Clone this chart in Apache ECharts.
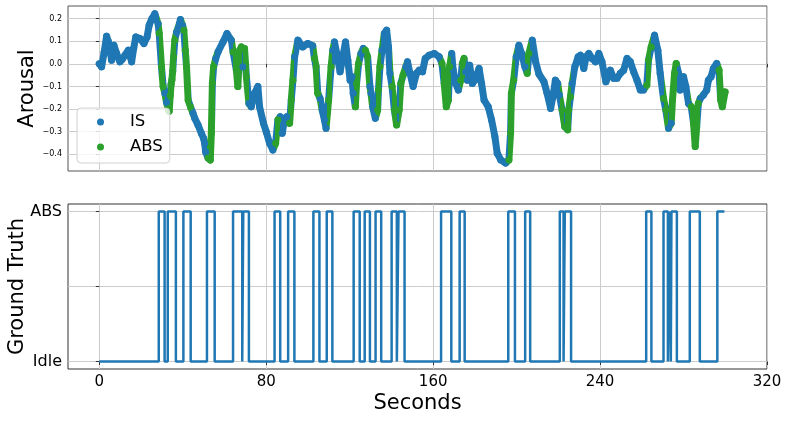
<!DOCTYPE html>
<html>
<head>
<meta charset="utf-8">
<script src="https://cdn.jsdelivr.net/npm/echarts@6/dist/echarts.min.js"></script>
<style>
html,body{margin:0;padding:0;background:#fff;}
#chart{width:789px;height:421px;}
</style>
</head>
<body>
<div id="chart"></div>
<script>
// ---- Data ----
const xTicks = [0, 80, 160, 240, 320];
const arousalTicks = [-0.4, -0.3, -0.2, -0.1, 0.0, 0.1, 0.2];
const gtLabels = ['Idle', 'ABS'];
const gtTickValues = [0, 0.5, 1];

// Ground-truth transitions: time (s) and state (0 = Idle, 1 = ABS) starting at that time
const gtTimes = [0, 28.5, 31.3, 32.8, 36.7, 40.3, 43.8, 51.6, 55.3, 64.1, 68.5, 69.0, 71.7, 84.0, 86.7, 90.5, 93.5,
  102.6, 105.5, 109.0, 111.7, 121.9, 124.8, 127.2, 129.7, 132.4, 135.1, 140.1, 142.6, 143.4, 146.3,
  163.8, 168.7, 172.7, 175.1, 196.0, 199.2, 204.1, 206.5, 220.7, 222.5, 223.1, 226.1,
  262.1, 264.6, 270.4, 272.5, 273.1, 273.9, 274.2, 276.8, 283.0, 287.8, 296.2, 299.6];
const gtStates = [0, 1, 0, 1, 0, 1, 0, 1, 0, 1, 0, 1, 0, 1, 0, 1, 0,
  1, 0, 1, 0, 1, 0, 1, 0, 1, 0, 1, 0, 1, 0,
  1, 0, 1, 0, 1, 0, 1, 0, 1, 0, 1, 0,
  1, 0, 1, 0, 1, 0, 1, 0, 1, 0, 1, 1];

// Arousal readings: time (s) and value
const arousalTimes = [0, 1.1, 2.3, 3.5, 4.3, 5.1, 5.9, 7.0, 8.3, 9.9, 11.0, 12.3, 13.9, 15.5, 16.5, 17.5, 19.5, 21.4, 22.9, 23.9,
  25.2, 26.6, 28.2, 28.7, 29.8, 30.6, 31.4, 32.2, 33.0, 33.5, 34.0, 34.4, 34.8, 35.2, 35.6, 36.2, 37.0, 37.8, 38.9, 39.9,
  40.5, 41.2, 41.8, 42.6, 43.7, 44.9, 45.7, 47.3, 48.9, 50.0, 50.5, 51.0, 52.1, 53.2, 53.7, 54.2, 54.8, 55.8, 56.9, 59.3,
  61.2, 63.3, 64.1, 65.7, 66.4, 67.3, 68.1, 68.8, 69.6, 70.5, 71.7, 72.8, 74.4, 76.0, 76.8, 78.7, 80.0, 81.6, 83.2, 84.5,
  85.6, 86.7, 87.7, 88.8, 89.9, 91.2, 92.0, 92.8, 93.6, 95.2, 97.5, 99.9, 102.3, 103.1, 103.9, 104.7, 105.8, 106.8, 107.9, 108.7,
  109.9, 111.1, 111.9, 112.7, 113.8, 115.4, 116.7, 118.0, 119.1, 120.2, 121.1, 121.7, 122.7, 123.3, 124.3, 125.4, 126.5, 127.5, 128.6, 129.7,
  130.2, 131.0, 132.3, 133.4, 133.8, 134.5, 135.5, 136.6, 137.7, 138.6, 139.3, 140.3, 141.4, 142.5, 143.7, 144.5, 145.6, 146.9, 147.7, 148.9,
  150.4, 152.0, 153.3, 154.9, 156.2, 158.1, 160.5, 162.9, 164.2, 165.3, 166.3, 167.3, 167.9, 168.9, 169.6, 170.8, 172.1, 173.2, 174.0, 174.8,
  175.6, 176.4, 177.5, 178.8, 180.0, 182.0, 183.2, 184.4, 186.4, 188.0, 189.6, 190.7, 192.4, 194.7, 196.3, 197.1, 197.5, 198.6, 199.8, 201.1,
  202.4, 204.0, 205.1, 205.9, 207.5, 209.1, 210.7, 213.1, 214.6, 216.3, 217.4, 218.6, 219.7, 220.5, 221.8, 223.1, 224.5, 225.0, 225.8, 226.6,
  227.9, 229.5, 230.6, 232.2, 233.3, 234.6, 236.1, 237.8, 239.4, 240.9, 242.8, 244.9, 246.5, 248.1, 249.7, 251.3, 252.9, 254.5, 256.1, 257.7,
  259.3, 260.8, 262.4, 263.2, 264.5, 266.1, 267.7, 268.8, 270.4, 271.5, 272.8, 274.1, 274.7, 275.7, 276.5, 277.6, 278.4, 280.0, 281.1, 282.4,
  283.7, 284.8, 285.6, 286.3, 287.1, 288.0, 289.5, 291.1, 291.9, 293.2, 294.3, 295.9, 297.0, 297.8, 298.6, 299.9];
const arousalValues = [0.0, -0.013, 0.05, 0.122, 0.10, 0.06, 0.016, 0.082, 0.046, 0.009, 0.02, 0.038, 0.06, 0.009, 0.07, 0.119, 0.112, 0.09, 0.119, 0.171,
  0.2, 0.222, 0.178, 0.135, -0.013, -0.1, -0.13, -0.17, -0.2, -0.21, -0.14, -0.09, -0.07, -0.03, 0.03, 0.105, 0.14, 0.16, 0.196, 0.171,
  0.149, 0.06, -0.013, -0.16, -0.19, -0.219, -0.24, -0.27, -0.307, -0.33, -0.351, -0.39, -0.417, -0.425, -0.307, -0.085, -0.013, 0.024, 0.053, 0.097,
  0.134, 0.105, 0.053, -0.028, -0.1, 0.06, 0.075, -0.013, 0.068, -0.057, -0.175, -0.19, -0.13, -0.1, -0.19, -0.263, -0.3, -0.351, -0.381, -0.351,
  -0.248, -0.234, -0.307, -0.241, -0.234, -0.263, -0.16, -0.072, 0.031, 0.105, 0.075, 0.09, 0.08, 0.024, -0.013, -0.13, -0.153, -0.204, -0.248, -0.285,
  -0.16, -0.013, 0.06, 0.097, 0.046, -0.035, 0.031, 0.097, 0.016, -0.072, -0.057, -0.13, -0.19, -0.087, 0.002, 0.046, 0.068, 0.06, 0.031, -0.1,
  -0.13, -0.19, -0.241, -0.204, -0.116, -0.013, 0.06, 0.134, 0.149, 0.075, -0.042, -0.1, -0.204, -0.27, -0.204, -0.087, -0.05, -0.013, 0.009, -0.042,
  -0.1, -0.042, -0.028, -0.035, 0.024, 0.038, 0.046, 0.031, 0.002, -0.087, -0.19, -0.16, -0.013, 0.046, -0.028, -0.087, -0.116, -0.072, 0.002, 0.024,
  -0.035, -0.072, -0.006, -0.087, -0.072, -0.02, -0.087, -0.16, -0.19, -0.248, -0.322, -0.395, -0.425, -0.439, -0.425, -0.307, -0.13, -0.072, 0.031, 0.082,
  0.046, -0.013, -0.042, 0.046, 0.105, 0.01, -0.045, -0.079, -0.13, -0.197, -0.146, -0.072, -0.087, -0.138, -0.204, -0.278, -0.292, -0.204, -0.146, -0.087,
  -0.013, 0.031, 0.038, -0.02, 0.031, 0.046, 0.024, 0.009, 0.046, 0.009, -0.079, -0.028, -0.064, -0.064, -0.042, -0.028, 0.024, 0.009, -0.035, -0.072,
  -0.116, -0.116, -0.094, 0.016, 0.075, 0.127, 0.06, -0.042, -0.153, -0.204, -0.285, -0.263, -0.16, -0.042, 0.002, -0.042, -0.116, -0.057, -0.1, -0.175,
  -0.19, -0.263, -0.366, -0.278, -0.175, -0.153, -0.138, -0.116, -0.072, -0.057, -0.02, 0.002, -0.028, -0.16, -0.19, -0.124];

// ---- Build ----
const BLUE = '#1f77b4', GREEN = '#2ca02c';
const FONT = 'DejaVu Sans';

function stateAt(t) {
  let s = gtStates[0];
  for (let i = 0; i < gtTimes.length; i++) { if (gtTimes[i] <= t) s = gtStates[i]; else break; }
  return s;
}
const linePts = arousalTimes.map((t, i) => [t, arousalValues[i]]);
const isPts = linePts.filter(p => stateAt(p[0]) === 0);
const absPts = linePts.filter(p => stateAt(p[0]) === 1);

const pieces = [{ lt: gtTimes[0], color: BLUE }];
for (let i = 0; i < gtTimes.length; i++) {
  const p = { gte: gtTimes[i], color: gtStates[i] ? GREEN : BLUE };
  if (i < gtTimes.length - 1) p.lt = gtTimes[i + 1];
  pieces.push(p);
}
const gtData = gtTimes.map((t, i) => [t, gtStates[i]]);

const gridL = 68, gridW = 699;
const chart = echarts.init(document.getElementById('chart'), null, { renderer: 'canvas' });
const option = {
  animation: false,
  textStyle: { fontFamily: FONT },
  grid: [
    { left: gridL, top: 6, width: gridW, height: 165, show: true, borderColor: '#555', borderWidth: 1, backgroundColor: 'transparent',
      containLabel: false, outerBoundsMode: 'none' },
    { left: gridL, top: 204, width: gridW, height: 165, show: true, borderColor: '#333', borderWidth: 1, backgroundColor: 'transparent',
      containLabel: false, outerBoundsMode: 'none' }
  ],
  legend: {
    show: true, orient: 'vertical', left: 77, top: 108,
    data: [{ name: 'IS', icon: 'circle' }, { name: 'ABS', icon: 'circle' }],
    itemWidth: 7, itemHeight: 7, itemGap: 5,
    padding: [4, 7, 6, 20],
    backgroundColor: 'rgba(255,255,255,0.8)', borderColor: '#d0d0d0', borderWidth: 1, borderRadius: 4,
    itemStyle: { opacity: 1 },
    textStyle: { fontFamily: FONT, fontSize: 16.5, color: '#000', lineHeight: 20, padding: [0, 0, 0, 21] }
  },
  visualMap: { show: false, type: 'piecewise', dimension: 0, seriesIndex: 0, pieces: pieces },
  xAxis: [
    { type: 'value', gridIndex: 0, min: -15, max: 320,
      axisLine: { show: false },
      axisTick: { show: true, length: 3.5, lineStyle: { color: '#333' }, customValues: xTicks },
      axisLabel: { show: false, customValues: xTicks },
      splitLine: { show: true, lineStyle: { color: '#cccccc', width: 1 } } },
    { type: 'value', gridIndex: 1, min: -15, max: 320,
      axisLine: { show: false },
      axisTick: { show: true, length: 3.5, lineStyle: { color: '#333' }, customValues: xTicks },
      axisLabel: { show: true, customValues: xTicks, fontSize: 15, color: '#000', margin: 6, fontFamily: FONT },
      splitLine: { show: true, lineStyle: { color: '#cccccc', width: 1 } },
      name: 'Seconds', nameLocation: 'middle', nameGap: 24, nameMoveOverlap: false,
      nameTextStyle: { fontSize: 21, color: '#000', fontFamily: FONT } }
  ],
  yAxis: [
    { type: 'value', gridIndex: 0, min: -0.474, max: 0.256,
      axisLine: { show: false },
      axisTick: { show: true, length: 3.5, lineStyle: { color: '#333' }, customValues: arousalTicks },
      axisLabel: { show: true, customValues: arousalTicks, fontSize: 8, color: '#000', margin: 6, fontFamily: FONT,
        formatter: v => (v < 0 ? '\u2212' : '') + Math.abs(v).toFixed(1) },
      splitLine: { show: true, lineStyle: { color: '#cccccc', width: 1 } },
      name: 'Arousal', nameLocation: 'middle', nameGap: 30, nameMoveOverlap: false,
      nameTextStyle: { fontSize: 21, color: '#000', fontFamily: FONT } },
    { type: 'value', gridIndex: 1, min: -0.05, max: 1.05,
      axisLine: { show: false },
      axisTick: { show: true, length: 3.5, lineStyle: { color: '#333' }, customValues: gtTickValues },
      axisLabel: { show: true, customValues: gtTickValues, fontSize: 16, color: '#000', margin: 6, fontFamily: FONT,
        formatter: v => (v === 0 ? gtLabels[0] : (v === 1 ? gtLabels[1] : '')) },
      splitLine: { show: true, lineStyle: { color: '#cccccc', width: 1 } },
      name: 'Ground Truth', nameLocation: 'middle', nameGap: 40, nameMoveOverlap: false,
      nameTextStyle: { fontSize: 21, color: '#000', fontFamily: FONT } }
  ],
  series: [
    { type: 'line', name: 'Arousal', xAxisIndex: 0, yAxisIndex: 0, data: linePts, showSymbol: false,
      lineStyle: { width: 7, cap: 'round', join: 'round' }, z: 2, silent: true },
    { type: 'scatter', name: 'IS', xAxisIndex: 0, yAxisIndex: 0, data: isPts, symbolSize: 7,
      itemStyle: { color: BLUE, opacity: 1 }, z: 3, silent: true },
    { type: 'scatter', name: 'ABS', xAxisIndex: 0, yAxisIndex: 0, data: absPts, symbolSize: 7,
      itemStyle: { color: GREEN, opacity: 1 }, z: 3, silent: true },
    { type: 'line', name: 'Ground Truth', xAxisIndex: 1, yAxisIndex: 1, data: gtData, step: 'end', showSymbol: false,
      lineStyle: { width: 2.5, color: BLUE }, itemStyle: { color: BLUE }, silent: true }
  ]
};
chart.setOption(option);
</script>
</body>
</html>
